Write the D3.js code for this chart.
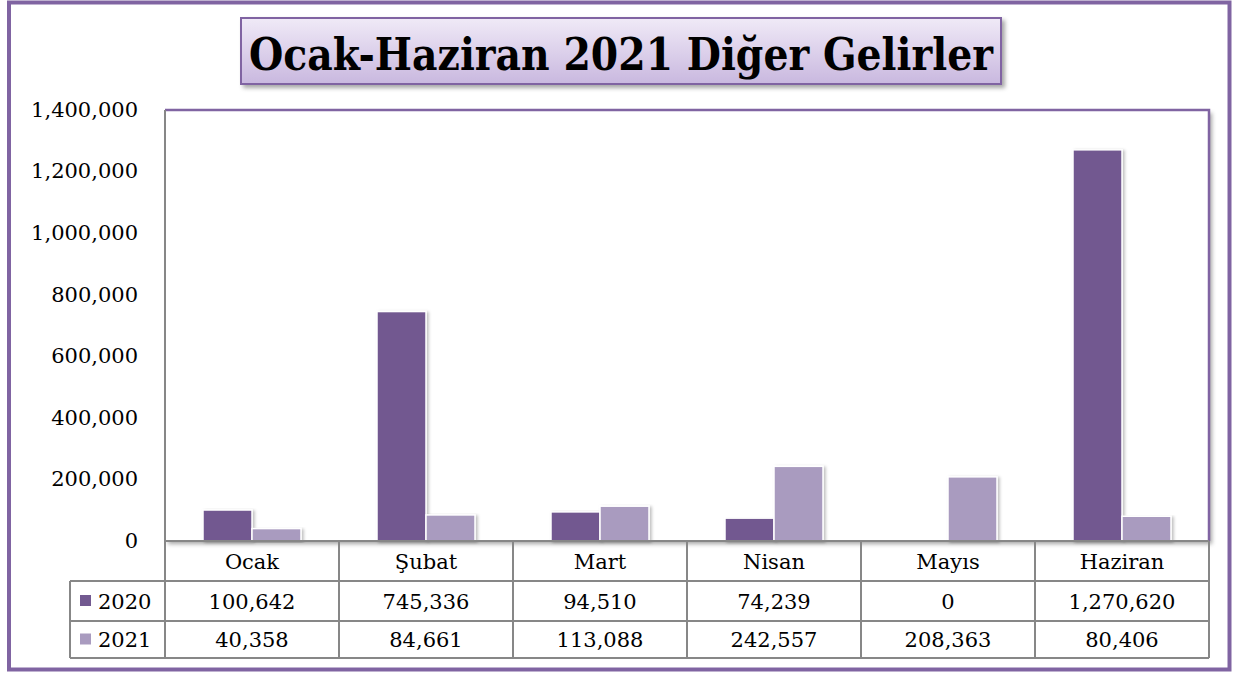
<!DOCTYPE html>
<html><head><meta charset="utf-8">
<script src="https://cdn.jsdelivr.net/npm/d3@7"></script>
<style>
html,body{margin:0;padding:0;background:#fff;}
svg{display:block;}
text{font-family:"DejaVu Serif","Liberation Serif",serif;fill:#000;}
</style></head>
<body>
<svg id="c" width="1238" height="675"></svg>
<script>
const title = "Ocak-Haziran 2021 Diğer Gelirler";
const categories = ["Ocak","Şubat","Mart","Nisan","Mayıs","Haziran"];
const seriesNames = ["2020","2021"];
const values2020 = [100642,745336,94510,74239,0,1270620];
const values2021 = [40358,84661,113088,242557,208363,80406];
const yTicks = [0,200000,400000,600000,800000,1000000,1200000,1400000];
const seriesColors = ["#725990","#a99bbf"];

const svg = d3.select("#c");
const defs = svg.append("defs");
const grad = defs.append("linearGradient").attr("id","tg").attr("x1",0).attr("y1",0).attr("x2",0).attr("y2",1);
grad.append("stop").attr("offset","0%").attr("stop-color","#f0eaf7");
grad.append("stop").attr("offset","100%").attr("stop-color","#c9b8df");
const sh = defs.append("filter").attr("id","sh").attr("x","-20%").attr("y","-20%").attr("width","150%").attr("height","150%");
sh.append("feDropShadow").attr("dx",3).attr("dy",3).attr("stdDeviation",2).attr("flood-color","#000").attr("flood-opacity",0.35);
const bsh = defs.append("filter").attr("id","bsh").attr("x","-20%").attr("y","-5%").attr("width","150%").attr("height","120%");
bsh.append("feDropShadow").attr("dx",2).attr("dy",1).attr("stdDeviation",1.5).attr("flood-color","#000").attr("flood-opacity",0.25);

// outer border
svg.append("rect").attr("x",9).attr("y",2.5).attr("width",1220.5).attr("height",667).attr("fill","none").attr("stroke","#8064a2").attr("stroke-width",4);

// plot geometry
const L=165, R=1209, T=110, B=541;
const rowH=[B,581,621,658];
const legL=70;

const y = d3.scaleLinear().domain([0,1400000]).range([B,T]);
const x0 = d3.scaleBand().domain(categories).range([L,R]).padding(0);
const x1 = d3.scaleBand().domain(seriesNames).range([0,x0.bandwidth()]).paddingInner(0).paddingOuter(0.7755);

// plot area shadow + border
svg.append("rect").attr("x",L).attr("y",T).attr("width",R-L).attr("height",B-T).attr("fill","#fff").attr("filter","url(#sh)");
svg.append("path").attr("d",`M${L},${T}H${R}V${B}`).attr("fill","none").attr("stroke","#8064a2").attr("stroke-width",2.5);

// bars
const data = categories.map((c,i)=>({cat:c, vals:[{s:"2020",v:values2020[i]},{s:"2021",v:values2021[i]}]}));
const g = svg.append("g");
data.forEach(d=>{
  d.vals.forEach((b,j)=>{
    if(b.v<=0) return;
    g.append("rect")
      .attr("x",x0(d.cat)+x1(b.s))
      .attr("y",y(b.v))
      .attr("width",x1.bandwidth())
      .attr("height",y(0)-y(b.v))
      .attr("fill",seriesColors[j])
      .attr("stroke","#fff").attr("stroke-width",1.5)
      .attr("filter","url(#bsh)");
  });
});

// y axis labels
const ax = svg.append("g").attr("transform",`translate(${L},0)`)
  .call(d3.axisLeft(y).tickValues(yTicks).tickSize(0).tickPadding(27).tickFormat(d3.format(",")));
ax.select(".domain").remove();
ax.selectAll("text").style("font-family","DejaVu Serif").style("font-size","21px").attr("fill","#000").attr("dy","0.3em");

// table lines
const gray="#878787";
const tl = svg.append("g").attr("stroke",gray).attr("stroke-width",2).attr("fill","none");
tl.append("line").attr("x1",L).attr("x2",R).attr("y1",B).attr("y2",B);
tl.append("line").attr("x1",L).attr("x2",L).attr("y1",T).attr("y2",rowH[3]);
[1,2,3].forEach(k=>tl.append("line").attr("x1",legL).attr("x2",R).attr("y1",rowH[k]).attr("y2",rowH[k]));
tl.append("line").attr("x1",legL).attr("x2",legL).attr("y1",rowH[1]).attr("y2",rowH[3]);
categories.forEach(c=>{ tl.append("line").attr("x1",x0(c)+x0.bandwidth()).attr("x2",x0(c)+x0.bandwidth()).attr("y1",B).attr("y2",rowH[3]); });

// category labels
const fmt = d3.format(",");
const tg = svg.append("g").style("font-size","21px").attr("text-anchor","middle");
categories.forEach((c,i)=>{
  const cx = x0(c)+x0.bandwidth()/2;
  tg.append("text").attr("x",cx).attr("y",(rowH[0]+rowH[1])/2).attr("dy","0.36em").text(c);
  tg.append("text").attr("x",cx).attr("y",(rowH[1]+rowH[2])/2).attr("dy","0.36em").text(fmt(values2020[i]));
  tg.append("text").attr("x",cx).attr("y",(rowH[2]+rowH[3])/2).attr("dy","0.36em").text(fmt(values2021[i]));
});
// legend cells
seriesNames.forEach((s,k)=>{
  const cy=(rowH[k+1]+rowH[k+2])/2;
  svg.append("rect").attr("x",80).attr("y",cy-6).attr("width",11).attr("height",11).attr("fill",seriesColors[k]);
  svg.append("text").attr("x",98).attr("y",cy).attr("dy","0.36em").style("font-size","21px").text(s);
});

// title box
svg.append("rect").attr("x",241).attr("y",18).attr("width",760).attr("height",66)
  .attr("fill","url(#tg)").attr("stroke","#8064a2").attr("stroke-width",2).attr("filter","url(#sh)");
svg.append("text").attr("x",621).attr("y",70).attr("text-anchor","middle")
  .style("font-size","44px").style("font-weight","bold")
  .attr("textLength",744).attr("lengthAdjust","spacingAndGlyphs").text(title);
</script>
</body></html>
